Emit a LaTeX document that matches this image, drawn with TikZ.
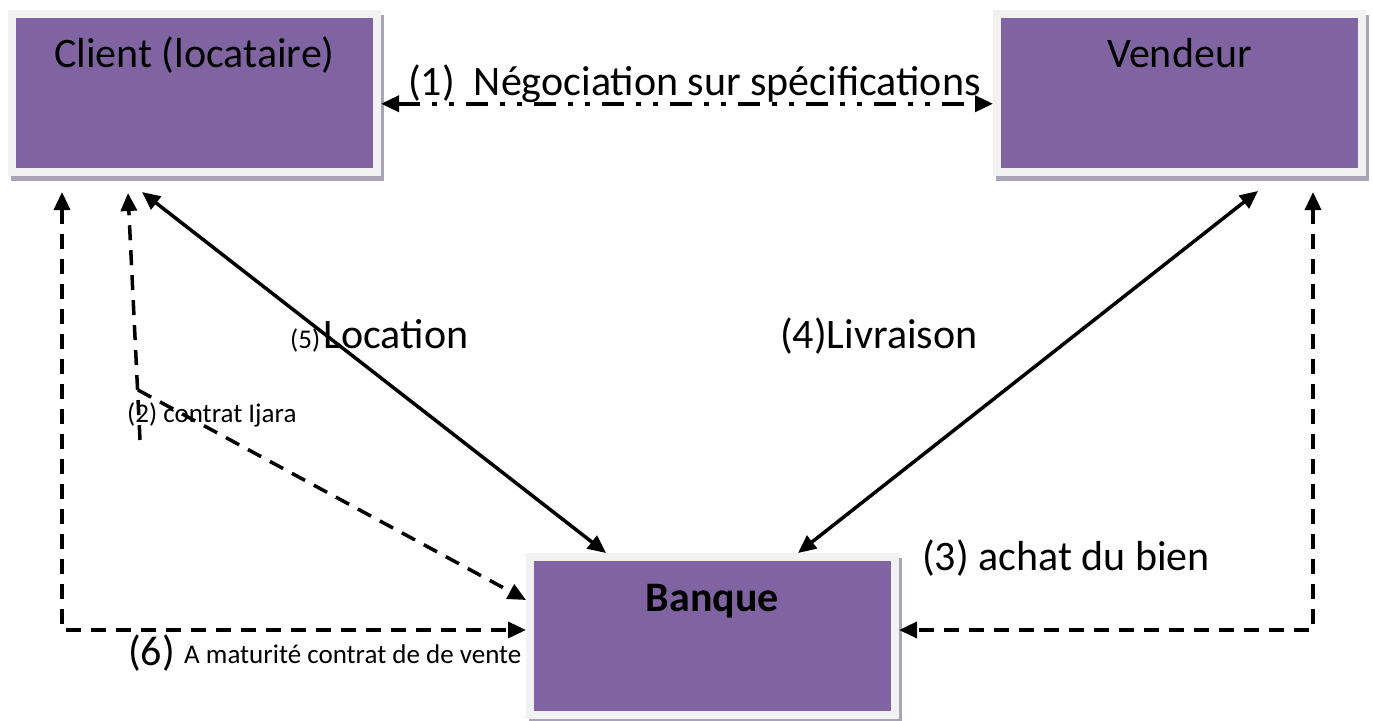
\documentclass[tikz,border=0pt]{standalone}
\usepackage{fontspec}
\setmainfont{Carlito}
\usetikzlibrary{arrows.meta, positioning, shadows}
\definecolor{ijarapurple}{HTML}{8064A2}
\definecolor{ijaraframe}{HTML}{F2F2F2}
\definecolor{ijarashadow}{HTML}{A9A3B6}
\newcommand{\bigtxt}{\fontsize{42}{50}\selectfont}
\newcommand{\smalltxt}{\fontsize{27}{32}\selectfont}

\begin{document}
\begin{tikzpicture}[
    x=1pt, y=-1pt,
    >={Triangle[length=18pt,width=16pt]},
    box/.style={
        rectangle,
        fill=ijarapurple,
        draw=ijaraframe,
        line width=8pt,
        inner sep=0pt,
        minimum width=365pt,
        text height=53.5pt,
        text depth=105pt,
        font=\bigtxt,
        drop shadow={shadow xshift=3pt, shadow yshift=-5pt, opacity=1,
            fill=ijarashadow, draw=ijarashadow, line width=8pt}
    },
    arrow/.style={<->, line width=3.5pt},
    dashline/.style={line width=3.5pt, dash pattern=on 15pt off 10pt},
    dashdotdot/.style={arrow, dash pattern=on 22pt off 12pt on 5pt off 12pt on 5pt off 12pt},
    lbl/.style={anchor=base west, inner sep=0pt}
]
\useasboundingbox (0,0) rectangle (1373,720);

\node[box] (client) at (194.5,92.75) {Client (locataire)};

\node[box, right=612pt of client] (vendeur) {Vendeur};

\node[box, text height=54pt, text depth=104pt, font=\bigtxt\bfseries] (banque) at (712.5,636) {Banque};

% labels
\node[lbl, font=\bigtxt] (negoc) at (408,95) {(1)\ \ Négociation sur spécifications};
\node[lbl, font=\smalltxt] (loc5) at (290,348) {(5)};
\node[lbl, font=\bigtxt] (location) at ([xshift=3pt]loc5.base east) {Location};
\node[lbl, font=\bigtxt] (livraison) at (780,348) {(4)Livraison};
\node[lbl, font=\smalltxt] (ijara) at (127,422) {(2) contrat Ijara};
\node[lbl, font=\bigtxt] (achat) at (922,570) {(3) achat du bien};
\node[lbl, font=\bigtxt] (mat6) at (128,665) {(6)};
\node[lbl, font=\smalltxt] (maturite) at (184,663) {A maturité contrat de de vente};

\coordinate (ijaralow) at (140,440);
\coordinate (ijaraturn) at (138,390);

\draw[dashdotdot] ([yshift=-11pt]client.east) -- ([yshift=-11pt]vendeur.west);
\draw[arrow] ([shift={(-52.5,16)}]client.south) -- ([xshift=-106.5pt]banque.north);
\draw[arrow] ([shift={(78.5,15)}]vendeur.south) -- ([xshift=85.5pt]banque.north);
\draw[dashline, ->] (ijaralow) -- ([shift={(-66.5,17)}]client.south);
\draw[dashline, ->] (ijaraturn) -- ([yshift=36pt]banque.west);
\draw[dashline, <->] ([shift={(-132.5,16)}]client.south) |- ([yshift=6pt]banque.west);
\draw[dashline, <->] ([shift={(133.5,16)}]vendeur.south) |- ([yshift=6pt]banque.east);

\end{tikzpicture}
\end{document}
